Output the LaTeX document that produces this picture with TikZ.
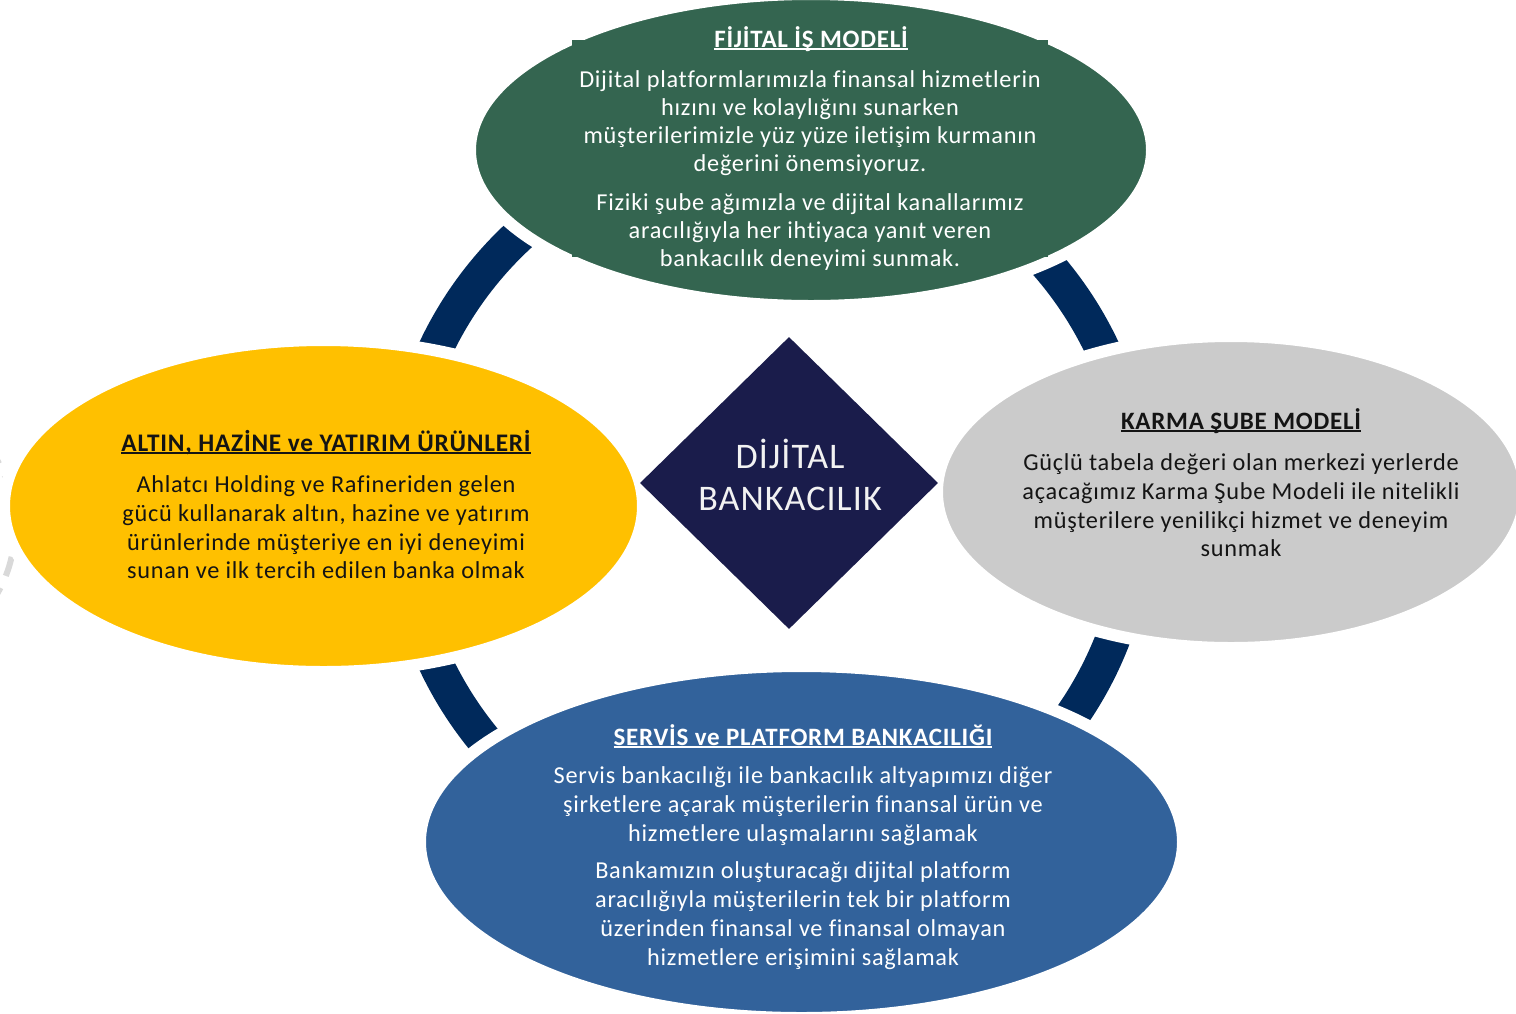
\documentclass[tikz,border=0pt]{standalone}
\usepackage{fontspec}
\setmainfont{Carlito}[LetterSpace=3,Ligatures={NoCommon}]
\usetikzlibrary{shapes.geometric}
\definecolor{cgreen}{RGB}{52,101,80}
\definecolor{cyellow}{RGB}{255,192,0}
\definecolor{cgray}{RGB}{203,203,203}
\definecolor{cblue}{RGB}{50,98,155}
\definecolor{cnavy}{RGB}{0,41,91}
\definecolor{cdiam}{RGB}{26,28,75}
\definecolor{cdash}{RGB}{217,217,217}
\definecolor{ctxt}{RGB}{20,20,20}
\newcommand\myul[1]{\setbox0=\hbox{#1}\rlap{\rule[-2.8pt]{\wd0}{1.7pt}}\box0}
\tikzset{
  ell/.style={shape=ellipse, inner sep=0pt, outer sep=0pt, draw=white, line width=12pt},
  ringstyle/.style={shape=circle, draw=cnavy, line width=35pt, inner sep=0pt, minimum size=737pt},
  dashring/.style={draw=cdash, line width=6pt, dash pattern=on 20pt off 13pt},
  ttl/.style={font=\fontsize{25}{29}\selectfont\bfseries, anchor=base, inner sep=0pt},
  body/.style={font=\fontsize{24.3}{29}\selectfont, align=center, inner sep=0pt}
}
\begin{document}
\begin{tikzpicture}[x=1pt,y=-1pt]
\useasboundingbox (0,0) rectangle (1516,1013);
\clip (0,0) rectangle (1516,1013);
% faint dashed arc at the left edge
\draw[dashring] (-119,527) circle [radius=134pt];
% ring
\node[ringstyle] (ring) at (769,506) {};
% ellipses
\node[ell, fill=cgreen, minimum width=682pt, minimum height=312pt] (fijital) at (811,150) {};
\node[fill=cgreen, inner sep=0pt, minimum width=476pt, minimum height=217pt] (fijbox) at (810,148.5) {};
\node[ell, fill=cyellow, minimum width=639pt, minimum height=332pt] (altin) at (323.5,506) {};
\node[ell, fill=cgray, minimum width=588pt, minimum height=312pt] (karma) at (1231,492) {};
\node[ell, fill=cblue, minimum width=763pt, minimum height=352pt] (servis) at (801.5,842) {};
% diamond
\node[shape=diamond, fill=cdiam, inner sep=0pt, minimum width=298pt, minimum height=292pt] (dijital) at (789,483) {};
\node[font=\fontsize{36}{42}\selectfont, text=white!95!black, align=center, inner sep=0pt] (dijtxt) at (790,475) {DİJİTAL\\BANKACILIK};
% texts
\node[ttl, text=white] (fijttl) at (811,47) {\myul{FİJİTAL İŞ MODELİ}};
\node[body, text=white, font=\fontsize{24.3}{28}\selectfont] (fijbody) at (810,171) {Dijital platformlarımızla finansal hizmetlerin\\hızını ve kolaylığını sunarken\\müşterilerimizle yüz yüze iletişim kurmanın\\değerini önemsiyoruz.\\[11pt]Fiziki şube ağımızla ve dijital kanallarımız\\aracılığıyla her ihtiyaca yanıt veren\\bankacılık deneyimi sunmak.};
\node[ttl, text=ctxt, font=\fontsize{25.3}{29}\selectfont\bfseries] (altttl) at (326,451) {\myul{ALTIN, HAZİNE ve YATIRIM ÜRÜNLERİ}};
\node[body, text=ctxt, font=\fontsize{24.3}{28.7}\selectfont] (altbody) at (326,527.5) {Ahlatcı Holding ve Rafineriden gelen\\gücü kullanarak altın, hazine ve yatırım\\ürünlerinde müşteriye en iyi deneyimi\\sunan ve ilk tercih edilen banka olmak};
\node[ttl, text=ctxt] (karttl) at (1241,429) {\myul{KARMA ŞUBE MODELİ}};
\node[body, text=ctxt, font=\fontsize{24.3}{28.7}\selectfont] (karbody) at (1241,505.5) {Güçlü tabela değeri olan merkezi yerlerde\\açacağımız Karma Şube Modeli ile nitelikli\\müşterilere yenilikçi hizmet ve deneyim\\sunmak};
\node[ttl, text=white] (serttl) at (803,745) {\myul{SERVİS ve PLATFORM BANKACILIĞI}};
\node[body, text=white] (serbody) at (803,868.5) {Servis bankacılığı ile bankacılık altyapımızı diğer\\şirketlere açarak müşterilerin finansal ürün ve\\hizmetlere ulaşmalarını sağlamak\\[8pt]Bankamızın oluşturacağı dijital platform\\aracılığıyla müşterilerin tek bir platform\\üzerinden finansal ve finansal olmayan\\hizmetlere erişimini sağlamak};
\end{tikzpicture}
\end{document}
